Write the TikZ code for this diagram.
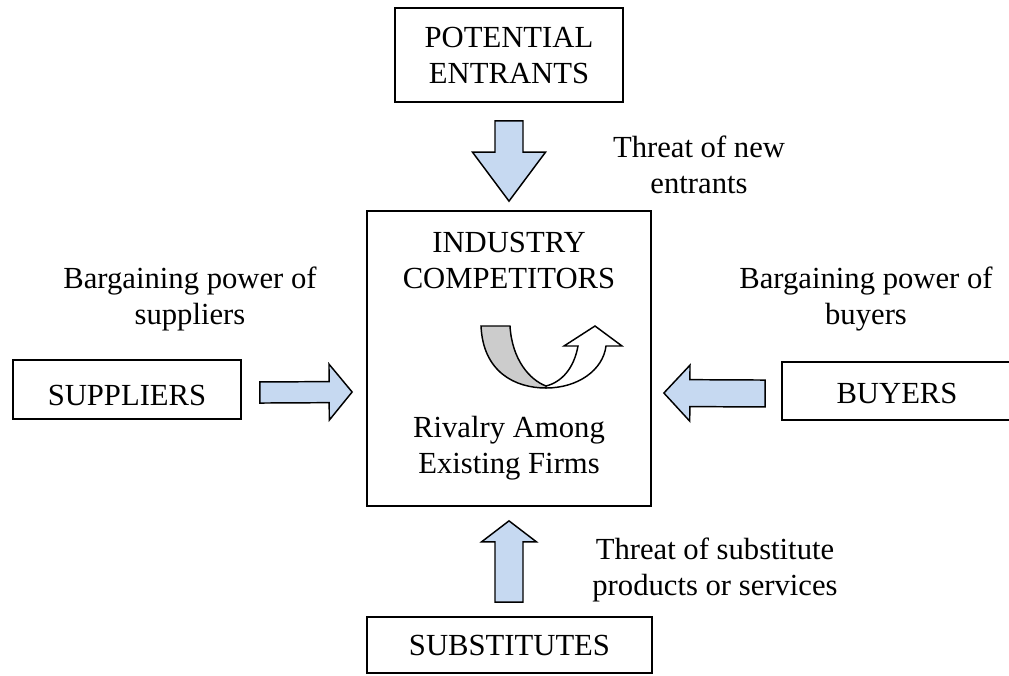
\documentclass[tikz,border=0pt]{standalone}
\usepackage{fontspec}
\setmainfont{Liberation Serif}
\usetikzlibrary{calc}
\definecolor{arrowblue}{HTML}{C6D9F1}
\definecolor{ribbongray}{HTML}{CCCCCC}
\tikzset{
  lbl/.style={font=\fontsize{23pt}{27pt}\selectfont, inner sep=0pt, align=center},
  forcebox/.style={draw, line width=1.3pt, inner sep=0pt, font=\fontsize{23pt}{27pt}\selectfont, align=center},
  blockarrow/.style={draw, line width=1.1pt, fill=arrowblue, line join=miter},
  ribbon/.style={draw, line width=1.1pt, line join=miter}
}
\newcommand\barrow[5]{%
  \coordinate (ba-h) at ($(#2)!#5!(#1)$);
  \draw[blockarrow] ($(#1)!#3!90:(#2)$) -- ($(ba-h)!#3!90:(#2)$) -- ($(ba-h)!#4!90:(#2)$) -- (#2)
    -- ($(ba-h)!#4!-90:(#2)$) -- ($(ba-h)!#3!-90:(#2)$) -- ($(#1)!#3!-90:(#2)$) -- cycle;
}
\begin{document}
\begin{tikzpicture}[x=0.75pt, y=-0.75pt]
\useasboundingbox (0,0) rectangle (1009,675);
\clip (0,0) rectangle (1009,675);

% boxes
\node[forcebox, minimum width=228*0.75pt, minimum height=94*0.75pt] (pe) at (509,55) {POTENTIAL\\ENTRANTS};
\node[draw, line width=1.3pt, minimum width=284*0.75pt, minimum height=295*0.75pt] (ic) at (509,358.5) {};
\node[forcebox, minimum width=228*0.75pt, minimum height=59*0.75pt, text height=23.25pt, text depth=0pt] (sup) at (127,389.5) {SUPPLIERS};
\node[forcebox, minimum width=230*0.75pt, minimum height=58*0.75pt, text height=18pt, text depth=0pt] (buy) at (897,391) {BUYERS};
\node[forcebox, minimum width=285*0.75pt, minimum height=56*0.75pt] (sub) at (509.5,645) {SUBSTITUTES};

% texts inside the central box (anchor = baseline of last line)
\node[lbl, anchor=base] (ictitle) at (509,288) {INDUSTRY\\COMPETITORS};
\node[lbl, anchor=base] (icrival) at (509,473) {Rivalry Among\\Existing Firms};

% force labels
\node[lbl, anchor=base] (lnew) at (699,193) {Threat of new\\entrants};
\node[lbl, anchor=base] (lsup) at (190,324) {Bargaining power of\\suppliers};
\node[lbl, anchor=base] (lbuy) at (866,324) {Bargaining power of\\buyers};
\node[lbl, anchor=base] (lsub) at (715,595) {Threat of substitute\\products or services};

% block arrows
\coordinate (t0) at ($(pe.south)+(0,18)$);
\coordinate (t1) at ($(ic.north)+(0,-9)$);
\barrow{t0}{t1}{10.5pt}{27.4pt}{36.75pt}

\coordinate (b0) at ($(sub.north)+(-0.5,-14)$);
\coordinate (b1) at ($(ic.south)+(0,14)$);
\barrow{b0}{b1}{10.5pt}{20.6pt}{15.75pt}

\coordinate (s0) at ($(sup.east)+(18,3)$);
\coordinate (s1) at ($(ic.west)+(-14,33.5)$);
\barrow{s0}{s1}{7.9pt}{21pt}{17.25pt}

\coordinate (r0) at ($(buy.west)+(-16,2.5)$);
\coordinate (r1) at ($(ic.east)+(12,34.5)$);
\barrow{r0}{r1}{10.1pt}{21pt}{19.5pt}

% U-turn arrow (rivalry)
\draw[ribbon, fill=white] (546,388) .. controls (578,388) and (603,370) .. (606,346)
  -- (622,346) -- (595,326) -- (564,346) -- (578,346)
  .. controls (574,368) and (562,382) .. (546,386) -- cycle;
\draw[ribbon, fill=ribbongray] (481,326) -- (510,326)
  .. controls (512,360) and (530,380) .. (546,386) -- (546,388)
  .. controls (515,388) and (483,372) .. (481,326) -- cycle;
\end{tikzpicture}
\end{document}
